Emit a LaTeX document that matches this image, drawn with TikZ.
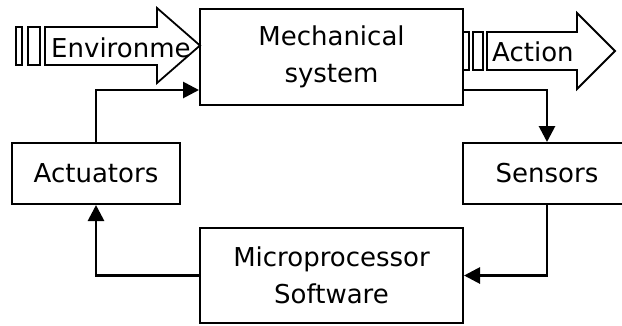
\documentclass[tikz,border=0pt]{standalone}
\usepackage{fontspec}
\setmainfont{DejaVu Sans}
\usetikzlibrary{arrows.meta}
\begin{document}
\begin{tikzpicture}[x=1pt,y=-1pt,
  box/.style={draw, line width=2pt, minimum width=168pt, minimum height=61pt,
    font=\fontsize{26}{37}\selectfont, align=center, inner sep=0pt},
  conn/.style={line width=2.8pt, -{Triangle[length=16pt,width=16pt]}},
  bigarrow/.style={draw, line width=1.8pt, fill=white, line join=miter},
  lbl/.style={font=\fontsize{26}{30}\selectfont, inner sep=0pt, anchor=west}]
\useasboundingbox (0,0) rectangle (622,325);

% blocks
\node[box, minimum width=263pt, minimum height=96pt] (mech) at (331.5,57) {Mechanical\\system};
\node[box] (act) at (96,173.5) {Actuators};
\node[box] (sens) at (547,173.5) {Sensors};
\node[box, minimum width=263pt, minimum height=95pt] (micro) at (331.5,275.5) {Microprocessor\\Software};

% input arrow from the environment
\draw[bigarrow] (16,27) rectangle (22,65);
\draw[bigarrow] (28,27) rectangle (40,65);
\draw[bigarrow] (45,27) -- (157,27) -- (157,8) -- (200,45.5) -- (157,83) -- (157,65) -- (45,65) -- cycle;
\node[lbl] (envtext) at (51,48) {Environme};

% output action arrow
\draw[bigarrow] (463,32) rectangle (469,70);
\draw[bigarrow] (473,32) rectangle (483,70);
\draw[bigarrow] (487,32) -- (577,32) -- (577,13) -- (615,51) -- (577,89) -- (577,70) -- (487,70) -- cycle;
\node[lbl] (acttext) at (492,52) {Action};

% control loop
\draw[conn] (act.north) |- ([yshift=-33pt]mech.west);
\draw[conn] ([yshift=-33pt]mech.east) -| (sens.north);
\draw[conn] (sens.south) |- (micro.east);
\draw[conn] (micro.west) -| (act.south);
\end{tikzpicture}
\end{document}
